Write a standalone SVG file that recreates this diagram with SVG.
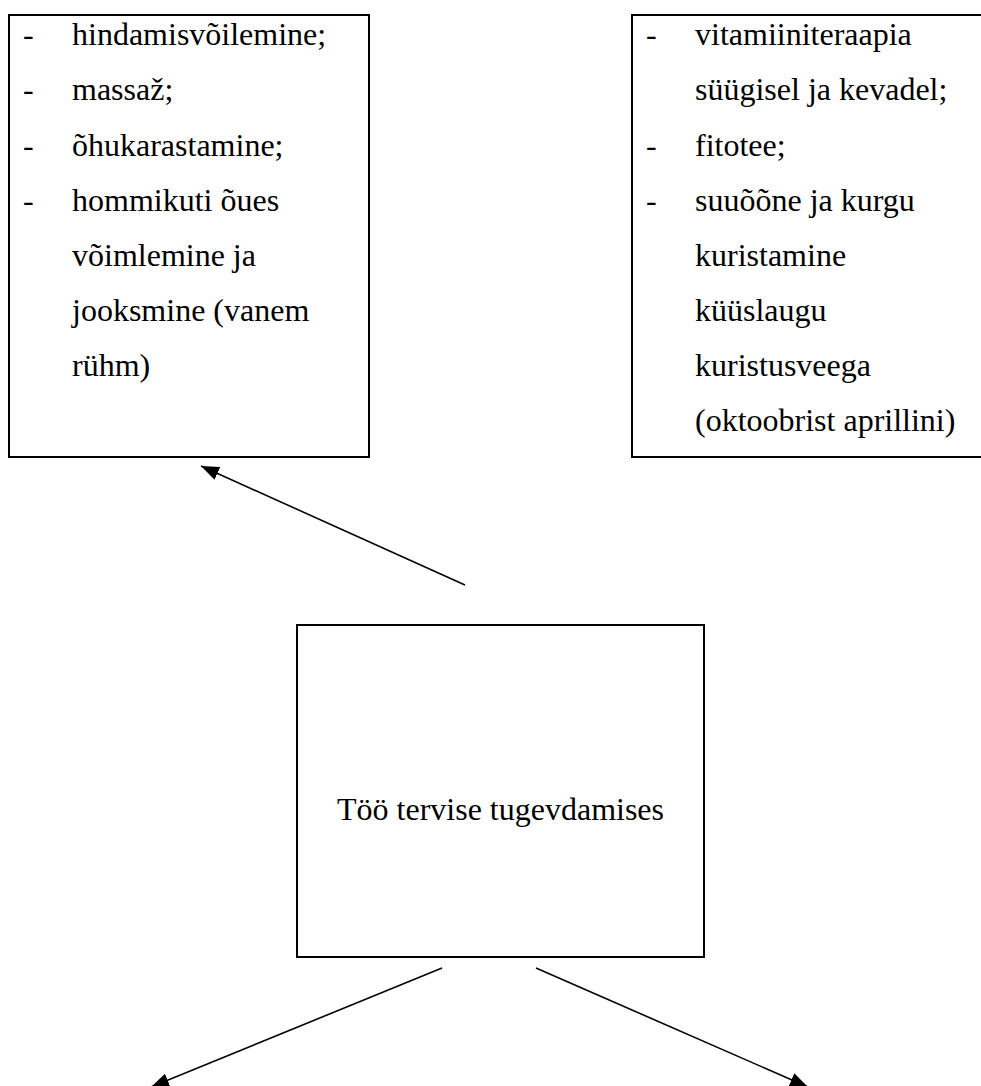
<svg xmlns="http://www.w3.org/2000/svg" width="981" height="1086" viewBox="0 0 981 1086">
  <style>
    .box { fill: #ffffff; stroke: #000000; stroke-width: 2; }
    .txt { font-family: "Liberation Serif", "Times New Roman", serif; font-size: 32px; fill: #000000; }
    .conn { stroke: #000000; stroke-width: 1.6; fill: none; marker-end: url(#arrow); }
  </style>
  <defs>
    <marker id="arrow" markerUnits="userSpaceOnUse" markerWidth="20" markerHeight="16" refX="18" refY="7" orient="auto">
      <path d="M0,0 L18,7 L0,14 z" fill="#000000"/>
    </marker>
  </defs>
  <rect width="981" height="1086" fill="#ffffff"/>

  <g id="node-left">
    <rect class="box" x="9" y="15" width="360" height="442"/>
    <text class="txt" x="23" y="45">-</text>
    <text class="txt" x="72" y="45">hindamisvõilemine;</text>
    <text class="txt" x="23" y="100">-</text>
    <text class="txt" x="72" y="100">massaž;</text>
    <text class="txt" x="23" y="156">-</text>
    <text class="txt" x="72" y="156">õhukarastamine;</text>
    <text class="txt" x="23" y="211">-</text>
    <text class="txt" x="72" y="211">hommikuti õues</text>
    <text class="txt" x="72" y="266">võimlemine ja</text>
    <text class="txt" x="72" y="321">jooksmine (vanem</text>
    <text class="txt" x="72" y="376">rühm)</text>
  </g>

  <g id="node-right">
    <rect class="box" x="632" y="15" width="360" height="442"/>
    <text class="txt" x="646" y="45">-</text>
    <text class="txt" x="695" y="45">vitamiiniteraapia</text>
    <text class="txt" x="695" y="100">süügisel ja kevadel;</text>
    <text class="txt" x="646" y="156">-</text>
    <text class="txt" x="695" y="156">fitotee;</text>
    <text class="txt" x="646" y="211">-</text>
    <text class="txt" x="695" y="211">suuõõne ja kurgu</text>
    <text class="txt" x="695" y="266">kuristamine</text>
    <text class="txt" x="695" y="321">küüslaugu</text>
    <text class="txt" x="695" y="376">kuristusveega</text>
    <text class="txt" x="695" y="431">(oktoobrist aprillini)</text>
  </g>

  <g id="node-center">
    <rect class="box" x="297" y="625" width="407" height="332"/>
    <text class="txt" x="500.5" y="820" text-anchor="middle">Töö tervise tugevdamises</text>
  </g>

  <g id="connectors">
    <line class="conn" x1="465" y1="585" x2="201" y2="466"/>
    <line class="conn" x1="442" y1="968" x2="151" y2="1087"/>
    <line class="conn" x1="536" y1="968" x2="808" y2="1087"/>
  </g>
</svg>
